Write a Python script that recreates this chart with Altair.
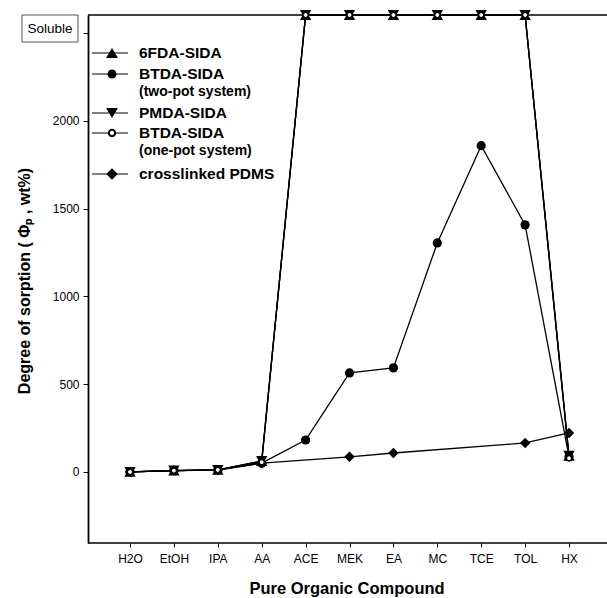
import altair as alt
import pandas as pd

# ---------------- data ----------------
solvents = ["H2O", "EtOH", "IPA", "AA", "ACE", "MEK", "EA", "MC", "TCE", "TOL", "HX"]
SOLUBLE = 2604  # "Soluble" level (top frame of the plot)

fda6_sida = [0, 8, 12, 62, SOLUBLE, SOLUBLE, SOLUBLE, SOLUBLE, SOLUBLE, SOLUBLE, 92]
btda_two_pot = [0, 8, 12, 50, 182, 564, 593, 1305, 1859, 1408, 86]
pmda_sida = [0, 8, 12, 62, SOLUBLE, SOLUBLE, SOLUBLE, SOLUBLE, SOLUBLE, SOLUBLE, 92]
btda_one_pot = [0, 8, 12, 56, SOLUBLE, SOLUBLE, SOLUBLE, SOLUBLE, SOLUBLE, SOLUBLE, 78]
pdms = [0, 8, 10, 50, None, 86, 108, None, None, 165, 222]

series_names = ["crosslinked PDMS", "BTDA-SIDA (two-pot system)", "6FDA-SIDA",
                "PMDA-SIDA", "BTDA-SIDA (one-pot system)"]
series_values = [pdms, btda_two_pot, fda6_sida, pmda_sida, btda_one_pot]

y_ticks = [0, 500, 1000, 1500, 2000, 2500]

rows = []
for name, vals in zip(series_names, series_values):
    for i, v in enumerate(vals):
        if v is not None:
            rows.append({"series": name, "idx": i, "solvent": solvents[i], "value": v})
df = pd.DataFrame(rows)

label_js = "[" + ",".join("'%s'" % s for s in solvents) + "][datum.value]"

FONT = "Liberation Sans"
W, H = 510, 528
PX_PER_STEP = 43.9
X_MIN = -0.957
X_MAX = X_MIN + W / PX_PER_STEP

base = alt.Chart(df).encode(
    x=alt.X("idx:Q",
            scale=alt.Scale(domain=[X_MIN, X_MAX], nice=False, zero=False),
            axis=alt.Axis(values=list(range(len(solvents))), labelExpr=label_js,
                          title=None, grid=False, tickSize=4, labelPadding=6,
                          labelFontSize=12, labelFont=FONT, labelColor="black",
                          tickColor="black", domain=False)),
    y=alt.Y("value:Q",
            scale=alt.Scale(domain=[-405, SOLUBLE], nice=False, zero=False),
            axis=alt.Axis(values=y_ticks, format="d",
                          labelExpr="datum.value == 2500 ? '' : datum.label",
                          title=None, grid=False, tickSize=5, labelPadding=4,
                          labelFontSize=12, labelFont=FONT, labelColor="black",
                          tickColor="black", domainColor="black", domainWidth=1.8)),
)

lines = base.mark_line(color="black", strokeWidth=1.3).encode(detail="series:N")

def pts(name, **kw):
    return base.transform_filter(alt.datum.series == name).mark_point(opacity=1, **kw)

p_pdms = pts("crosslinked PDMS", shape="diamond", filled=True, color="black", size=110)
p_two = pts("BTDA-SIDA (two-pot system)", shape="circle", filled=True, color="black", size=85)
p_6fda = pts("6FDA-SIDA", shape="triangle-up", filled=True, color="black", size=130)
p_pmda = pts("PMDA-SIDA", shape="triangle-down", filled=True, color="black", size=130)
p_one = pts("BTDA-SIDA (one-pot system)", shape="circle", filled=True, fill="white",
            stroke="black", strokeWidth=1.3, size=26)

one = pd.DataFrame({"a": [0]})

# top frame line and bottom axis line, running to the right edge of the page
top_line = alt.Chart(one).mark_rule(color="black", strokeWidth=1.5).encode(
    x=alt.value(0), x2=alt.value(W + 20), y=alt.value(0))
bottom_line = alt.Chart(one).mark_rule(color="black", strokeWidth=1.5).encode(
    x=alt.value(0), x2=alt.value(W + 20), y=alt.value(H))

# ---------------- manual legend ----------------
legend_layers = []
legend_entries = [
    ("6FDA-SIDA", None, 38, dict(shape="triangle-up", filled=True, color="black", size=140)),
    ("BTDA-SIDA", "(two-pot system)", 59, dict(shape="circle", filled=True, color="black", size=80)),
    ("PMDA-SIDA", None, 98, dict(shape="triangle-down", filled=True, color="black", size=140)),
    ("BTDA-SIDA", "(one-pot system)", 118, dict(shape="circle", filled=True, fill="white",
                                                stroke="black", strokeWidth=2, size=40)),
    ("crosslinked PDMS", None, 159, dict(shape="diamond", filled=True, color="black", size=130)),
]
for label, sub, ly, mk in legend_entries:
    legend_layers.append(alt.Chart(one).mark_rule(color="black", strokeWidth=1.2).encode(
        x=alt.value(4), x2=alt.value(40), y=alt.value(ly)))
    legend_layers.append(alt.Chart(one).mark_point(opacity=1, **mk).encode(
        x=alt.value(24), y=alt.value(ly)))
    legend_layers.append(alt.Chart(one).mark_text(
        font=FONT, fontSize=15.5, fontWeight="bold", align="left", baseline="middle",
        color="black").encode(x=alt.value(51), y=alt.value(ly), text=alt.value(label)))
    if sub:
        legend_layers.append(alt.Chart(one).mark_text(
            font=FONT, fontSize=14, fontWeight="bold", align="left", baseline="middle",
            color="black").encode(x=alt.value(51), y=alt.value(ly + 18), text=alt.value(sub)))

# ---------------- "Soluble" box and titles ----------------
sol_box = alt.Chart(one).mark_rect(fill="white", stroke="#555555", strokeWidth=1).encode(
    x=alt.value(-66), x2=alt.value(-10), y=alt.value(0), y2=alt.value(27))
sol_text = alt.Chart(one).mark_text(font=FONT, fontSize=13.5, align="center",
                                    baseline="middle", color="black").encode(
    x=alt.value(-38), y=alt.value(13.5), text=alt.value("Soluble"))

y_title = alt.Chart(one).mark_text(font=FONT, fontSize=16, fontWeight="bold", angle=270,
                                   align="center", baseline="alphabetic",
                                   color="black").encode(
    x=alt.value(-58), y=alt.value(266), text=alt.value("Degree of sorption ( Φₚ , wt%)"))
x_title = alt.Chart(one).mark_text(font=FONT, fontSize=16.5, fontWeight="bold",
                                   align="center", baseline="alphabetic",
                                   color="black").encode(
    x=alt.value(259), y=alt.value(579), text=alt.value("Pure Organic Compound"))

chart = alt.layer(
    top_line, bottom_line, lines, p_pdms, p_two, p_6fda, p_pmda, p_one,
    *legend_layers, sol_box, sol_text, y_title, x_title
).properties(
    width=W, height=H,
    autosize=alt.AutoSizeParams(type="none"),
    padding={"left": 88, "top": 15, "right": 9, "bottom": 55},
    background="white",
).configure_view(stroke="transparent", strokeWidth=0)

chart.save("out.html", embed_options={"renderer": "svg", "actions": False})
